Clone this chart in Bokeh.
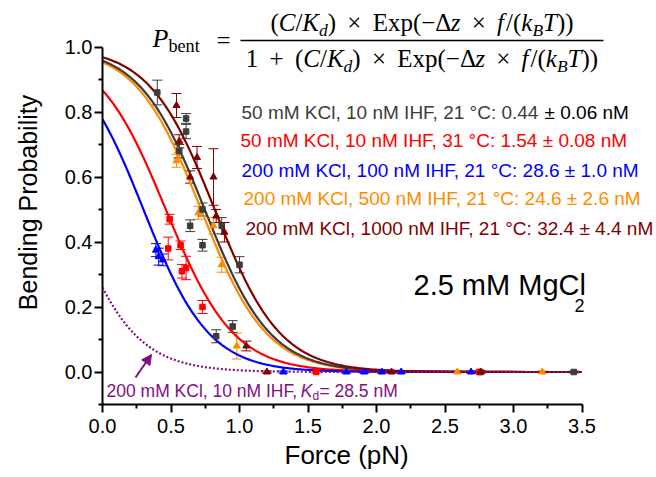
import numpy as np
from bokeh.plotting import figure
from bokeh.models import (Range1d, FixedTicker, NumeralTickFormatter, Label, Whisker, Title,
                          ColumnDataSource, Arrow, NormalHead, TeeHead, BoxAnnotation)
from bokeh.embed import file_html
from bokeh.resources import INLINE

# ---------------- data ----------------
# Fit parameters shown in the legend
ihf_nM = [10, 10, 100, 500, 1000, 10]
kd_nM = [0.44, 1.54, 28.6, 24.6, 32.4, 28.5]
temp_C = [21, 31, 21, 21, 21, 21]
delta_z_nm = 17.0  # step size used by the fit curves

black_f = [0.40, 0.61, 0.61, 0.56, 0.73, 0.64, 0.73, 0.87, 1.00, 0.83, 0.95, 2.76, 3.44]
black_p = [0.86, 0.78, 0.74, 0.68, 0.50, 0.45, 0.39, 0.45, 0.33, 0.11, 0.14, 0.0, 0.0]
black_e = [0.038, 0.015, 0.022, 0.02, 0.02, 0.018, 0.018, 0.025, 0.025, 0.02, 0.018, 0.003, 0.003]

red_f = [0.49, 0.48, 0.57, 0.58, 0.61, 0.73, 1.56, 2.75]
red_p = [0.47, 0.38, 0.39, 0.31, 0.32, 0.20, 0.0, 0.0]
red_e = [0.015, 0.035, 0.013, 0.021, 0.036, 0.02, 0.003, 0.003]

blue_f = [0.39, 0.41, 0.44, 1.32, 1.78, 1.91, 2.04, 2.18, 2.69]
blue_p = [0.375, 0.355, 0.345, 0.0, 0.0, 0.0, 0.0, 0.0, 0.0]
blue_e = [0.02, 0.026, 0.018, 0.003, 0.003, 0.003, 0.003, 0.003, 0.003]

orange_f = [0.55, 0.54, 0.70, 0.81, 0.87, 0.98, 2.59, 3.21]
orange_p = [0.68, 0.65, 0.49, 0.45, 0.33, 0.08, 0.0, 0.0]
orange_e = [0.023, 0.02, 0.02, 0.025, 0.023, 0.04, 0.003, 0.003]

dred_f = [0.54, 0.56, 0.69, 0.64, 0.81, 0.83, 0.89, 1.05, 1.20, 2.11, 2.76]
dred_p = [0.82, 0.71, 0.66, 0.60, 0.60, 0.48, 0.43, 0.08, 0.0, 0.0, 0.0]
dred_e = [0.037, 0.02, 0.034, 0.019, 0.087, 0.02, 0.03, 0.015, 0.003, 0.003, 0.003]

x_ticks = [0.0, 0.5, 1.0, 1.5, 2.0, 2.5, 3.0, 3.5]
x_minor = [0.25, 0.75, 1.25, 1.75, 2.25, 2.75, 3.25]
y_ticks = [0.0, 0.2, 0.4, 0.6, 0.8, 1.0]
y_minor = [-0.1, 0.1, 0.3, 0.5, 0.7, 0.9]

legend_lines = [
    "50 mM KCl, 10 nM IHF, 21 °C: 0.44",
    "50 mM KCl, 10 nM IHF, 31 °C:  1.54 ± 0.08 nM",
    "200 mM KCl, 100 nM IHF, 21 °C:  28.6 ± 1.0 nM",
    "200 mM KCl, 500 nM IHF, 21 °C: 24.6 ± 2.6 nM",
    "200 mM KCl, 1000 nM IHF, 21 °C: 32.4 ± 4.4 nM",
]
# ------------------------------------------------------------

GREY = "#3c3c3c"
RED = "#ff0000"
BLUE = "#0000ff"
ORANGE = "#ff8c00"
DRED = "#800000"
PURPLE = "#80107f"

LEFT_B = 102
FRAME_W, FRAME_H = 552, 404
PXX, PXY = 137.0, 325.0

p = figure(frame_width=FRAME_W, frame_height=FRAME_H, output_backend="svg", toolbar_location=None,
           x_range=Range1d(0, FRAME_W / PXX), y_range=Range1d(-0.1, -0.1 + FRAME_H / PXY),
           min_border_left=LEFT_B, min_border_right=0, min_border_top=0, min_border_bottom=70)
p.outline_line_color = None
p.xgrid.visible = False
p.ygrid.visible = False
p.background_fill_color = "white"

# page pixel -> data helpers for text placement (figure sits at the page's top-left)
PAGE_LEFT = LEFT_B
PAGE_BOTTOM = FRAME_H


def X(px):
    return (px - PAGE_LEFT) / PXX


def Y(py):
    return -0.1 + (PAGE_BOTTOM - py) / PXY


for ax in (p.xaxis[0], p.yaxis[0]):
    ax.axis_line_width = 2
    ax.axis_line_color = "black"
    ax.major_tick_line_width = 2
    ax.minor_tick_line_width = 2
    ax.major_tick_in = 0
    ax.major_tick_out = 8
    ax.minor_tick_in = 0
    ax.minor_tick_out = 4
    ax.major_label_text_font = "Liberation Sans"
    ax.major_label_text_font_size = "20px"
    ax.major_label_text_color = "black"
    ax.formatter = NumeralTickFormatter(format="0.0")

p.xaxis.bounds = (0, 3.5)
p.yaxis.bounds = (-0.1, 1.0)
p.xaxis.ticker = FixedTicker(ticks=x_ticks, minor_ticks=x_minor)
p.yaxis.ticker = FixedTicker(ticks=y_ticks, minor_ticks=y_minor)
p.xaxis.major_label_standoff = 6
p.yaxis.major_label_standoff = 2

p.yaxis.axis_label = "Bending Probability"
p.yaxis.axis_label_text_font = "Liberation Sans"
p.yaxis.axis_label_text_font_size = "25px"
p.yaxis.axis_label_text_font_style = "normal"
p.yaxis.axis_label_text_color = "black"
p.yaxis.axis_label_standoff = 20

p.add_layout(Title(text="Force (pN)", align="left", offset=182, text_font="Liberation Sans",
                   text_font_size="26px", text_font_style="normal", text_color="black",
                   standoff=5), "below")

# ---- fit curves P = (C/Kd) exp(-dz f/kBT) / (1 + ...) ----
force = np.linspace(0, 3.5, 300)
curve_colors = [GREY, RED, BLUE, ORANGE, DRED, PURPLE]
order = [3, 0, 1, 2, 4, 5]
for i in order:
    kbt = 0.0138065 * (temp_C[i] + 273.15)
    a = (ihf_nM[i] / kd_nM[i]) * np.exp(-delta_z_nm * force / kbt)
    pb = a / (1 + a)
    if i == 5:
        p.line(force, pb, line_color=PURPLE, line_width=2.2, line_dash="2 2")
    else:
        p.line(force, pb, line_color=curve_colors[i], line_width=2.2)


# ---- data points with error bars ----
def add_series(fs, ps, es, color, marker, size):
    src = ColumnDataSource(dict(f=fs, p=ps, lo=[a - b for a, b in zip(ps, es)],
                                hi=[a + b for a, b in zip(ps, es)]))
    w = Whisker(base="f", lower="lo", upper="hi", source=src, line_color=color, line_width=1,
                upper_head=TeeHead(size=10, line_color=color, line_width=1),
                lower_head=TeeHead(size=10, line_color=color, line_width=1))
    p.add_layout(w)
    p.scatter("f", "p", source=src, marker=marker, size=size, fill_color=color, line_color=color)


add_series(orange_f, orange_p, orange_e, ORANGE, "triangle", 7)
add_series(black_f, black_p, black_e, GREY, "square", 5.5)
add_series(red_f, red_p, red_e, RED, "square", 5.5)
add_series(blue_f, blue_p, blue_e, BLUE, "triangle", 7)
add_series(dred_f, dred_p, dred_e, DRED, "triangle", 7)


# ---- text helpers ----
def lab(px, py, text, size, color="black", font="Liberation Sans", style="normal",
        align="left", angle=0):
    p.add_layout(Label(x=X(px), y=Y(py), text=text, text_font=font, text_font_size=f"{size}px",
                       text_color=color, text_font_style=style, text_align=align,
                       text_baseline="middle", angle=angle, angle_units="deg"))


# Times-metric advance widths (per em)
WR = {" ": .25, "(": .333, ")": .333, "/": .278, "×": .564, "−": .564, "+": .564, "=": .564,
      "1": .5, "E": .611, "x": .5, "p": .5, "Δ": .612, "b": .5, "e": .444, "n": .5, "t": .278}
WI = {"C": .667, "K": .667, "d": .5, "z": .389, "f": .36, "k": .444, "B": .611, "T": .556, "P": .611}
GAP = 0.45


def tw(text, italic):
    tab = WI if italic else WR
    return sum(tab.get(c, WR.get(c, .5)) for c in text)


def place(tokens, x0, yc, size, color="black"):
    x = x0
    for text, kind in tokens:
        italic = kind in ("i", "isub")
        sub = kind in ("isub", "rsub")
        fs = size * 0.7 if sub else size
        if kind == "op":
            x += GAP * size
        lab(x, yc + (size * 0.3 if sub else 0), text, round(fs, 1), color=color,
            font="Liberation Serif", style="italic" if italic else "normal")
        x += tw(text, italic) * fs
        if kind == "op":
            x += GAP * size
    return x


def tokens_width(tokens, size):
    w = 0
    for text, kind in tokens:
        italic = kind in ("i", "isub")
        sub = kind in ("isub", "rsub")
        fs = size * 0.7 if sub else size
        w += tw(text, italic) * fs + (2 * GAP * size if kind == "op" else 0)
    return w


FS = 25
num = [("(", "r"), ("C", "i"), ("/", "r"), ("K", "i"), ("d", "isub"), (")", "r"), ("×", "op"),
       ("Exp(−Δ", "r"), ("z", "i"), ("×", "op"), ("f", "i"), ("/(", "r"), ("k", "i"), ("B", "isub"),
       ("T", "i"), ("))", "r")]
den = [("1", "r"), ("+", "op")] + num

bar_l, bar_r, bar_y = 240, 603, 40
cx = (bar_l + bar_r) / 2
place(num, cx - tokens_width(num, FS) / 2, bar_y - 18, FS)
place(den, cx - tokens_width(den, FS) / 2, bar_y + 18, FS)
p.add_layout(BoxAnnotation(left=X(bar_l), right=X(bar_r), top=Y(bar_y - 0.7), bottom=Y(bar_y + 0.7),
                           fill_color="black", fill_alpha=1, line_color=None))
place([("P", "i"), ("bent", "rsub")], 152, bar_y - 2, 26)
lab(216, bar_y, "=", FS, font="Liberation Serif")

# legend-like annotations
LS = 19
leg_y = [111.7, 140, 170, 198, 228]
leg_x = [241, 240, 241, 243, 245]
leg_c = [GREY, RED, BLUE, ORANGE, DRED]
for k in range(5):
    lab(leg_x[k], leg_y[k], legend_lines[k], LS, color=leg_c[k])
lab(leg_x[0] + 15.95 * LS, leg_y[0], "± 0.06 nM", LS, color="black")

# MgCl2
lab(413, 284, "2.5 mM MgCl", 29)
lab(574, 305, "2", 18)

# purple annotation
PS = 17.5
lab(106, 390, "200 mM KCl, 10 nM IHF, ", PS, color=PURPLE)
kx = 106 + 11.1 * PS
lab(kx, 390, "K", PS, color=PURPLE, style="italic")
lab(kx + 0.667 * PS, 395, "d", 12, color=PURPLE)
lab(kx + 0.667 * PS + 7, 390, "= 28.5 nM", PS, color=PURPLE)
p.add_layout(Arrow(end=NormalHead(size=10, fill_color=PURPLE, line_color=PURPLE),
                   x_start=X(135), y_start=Y(377), x_end=X(151), y_end=Y(354),
                   line_color=PURPLE, line_width=2))

open("out.html", "w").write(file_html(p, INLINE))
